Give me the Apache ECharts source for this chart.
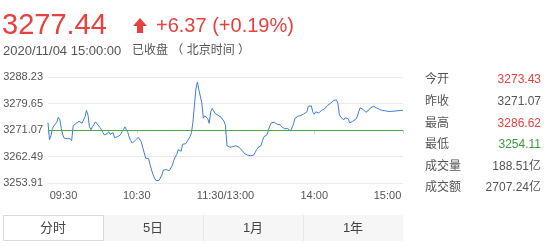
<!DOCTYPE html>
<html>
<head>
<meta charset="utf-8">
<script src="https://cdn.jsdelivr.net/npm/echarts@6/dist/echarts.min.js"></script>
<style>
html,body{margin:0;padding:0;background:#fff;}
#c{width:547px;height:246px;}
</style>
</head>
<body>
<div id="c"></div>
<script>
var prevClose = 3271.07;
var yTickLabels = ['3253.91', '3262.49', '3271.07', '3279.65', '3288.23'];
var xTickLabels = ['09:30', '10:30', '11:30/13:00', '14:00', '15:00'];
var prices = [
  3273.43, 3267.93, 3269.20, 3271.60, 3272.40, 3272.76, 3273.70, 3275.20, 3274.40, 3271.50,
  3269.50, 3268.40, 3268.90, 3268.25, 3267.90, 3268.25, 3267.60, 3272.40, 3272.90, 3273.24,
  3272.76, 3273.89, 3273.40, 3273.24, 3272.90, 3275.30, 3277.40, 3276.00, 3272.10, 3271.15,
  3272.10, 3272.76, 3273.70, 3273.56, 3272.60, 3271.95, 3271.30, 3270.34, 3269.50, 3268.90,
  3269.85, 3270.50, 3269.70, 3270.20, 3270.20, 3268.60, 3268.73, 3268.90, 3269.05, 3269.50,
  3270.50, 3271.15, 3272.10, 3271.15, 3270.20, 3268.60, 3267.60, 3266.80, 3267.30, 3267.76,
  3268.25, 3268.70, 3268.25, 3267.28, 3265.50, 3263.74, 3261.96, 3261.60, 3261.80, 3259.87,
  3258.10, 3256.65, 3255.52, 3254.71, 3254.11, 3254.71, 3255.20, 3256.50, 3258.10, 3257.60,
  3258.26, 3258.58, 3257.90, 3258.74, 3259.55, 3261.16, 3262.30, 3263.09, 3264.70, 3264.38,
  3264.20, 3266.47, 3266.15, 3266.60, 3267.28, 3267.76, 3268.90, 3270.20, 3273.70, 3279.20,
  3284.36, 3286.62, 3284.04, 3284.50, 3279.85, 3274.86, 3275.66, 3275.50, 3274.70, 3273.24,
  3276.95, 3278.08, 3277.27, 3276.47, 3276.14, 3275.82, 3275.82, 3275.18, 3274.70, 3273.90,
  3272.50, 3265.99, 3265.67, 3265.50, 3265.99, 3265.67, 3265.20, 3265.99, 3266.30, 3265.50,
  3265.00, 3264.54, 3263.90, 3263.41, 3263.09, 3262.93, 3262.45, 3262.77, 3263.41, 3262.93,
  3263.74, 3264.70, 3265.35, 3264.86, 3265.99, 3267.60, 3268.90, 3269.20, 3269.50, 3270.00,
  3272.40, 3273.40, 3273.70, 3273.56, 3273.40, 3272.90, 3273.07, 3272.76, 3272.10, 3271.80,
  3271.47, 3271.00, 3271.57, 3271.15, 3270.73, 3271.30, 3273.07, 3274.86, 3275.34, 3275.50,
  3275.66, 3275.82, 3276.14, 3276.30, 3276.14, 3276.95, 3278.72, 3279.10, 3278.90, 3276.95,
  3276.14, 3276.95, 3276.47, 3276.60, 3277.10, 3277.43, 3277.59, 3277.90, 3278.40, 3279.04,
  3279.50, 3279.69, 3280.33, 3280.66, 3281.30, 3280.82, 3279.69, 3275.98, 3275.18, 3274.86,
  3274.37, 3275.02, 3275.50, 3274.70, 3273.40, 3273.56, 3273.90, 3274.05, 3274.53, 3275.34,
  3276.95, 3278.24, 3278.08, 3277.76, 3277.27, 3276.79, 3276.47, 3277.59, 3278.24, 3278.56,
  3278.72, 3278.56, 3278.24, 3277.90, 3277.76, 3277.59, 3277.43, 3277.43, 3277.27, 3277.18,
  3277.10, 3276.95, 3277.10, 3277.27, 3277.18, 3277.43, 3277.27, 3277.18, 3277.43, 3277.43,
  3277.44
];
var headerPrice = '3277.44';
var headerChange = '+6.37 (+0.19%)';
var headerTime = '2020/11/04 15:00:00';
var headerStatus = '已收盘 （ 北京时间 ）';
var statLabels = ['今开', '昨收', '最高', '最低', '成交量', '成交额'];
var statValues = ['3273.43', '3271.07', '3286.62', '3254.11', '188.51亿', '2707.24亿'];
var statKinds = ['up', 'flat', 'up', 'down', 'flat', 'flat'];
var tabLabels = ['分时', '5日', '1月', '1年'];

// minute categories (09:30-11:30, 13:01-15:00)
var categories = [];
(function () {
  function pad(n) { return (n < 10 ? '0' : '') + n; }
  for (var m = 9 * 60 + 30; m <= 11 * 60 + 30; m++) categories.push(pad(Math.floor(m / 60)) + ':' + pad(m % 60));
  for (var m2 = 13 * 60 + 1; m2 <= 15 * 60; m2++) categories.push(pad(Math.floor(m2 / 60)) + ':' + pad(m2 % 60));
})();

var RED = '#e8413f', GREEN = '#3d9a3d', GRAY = '#555', BLUE = '#3d7edb';
var FONT = '"Liberation Sans", "Noto Sans CJK SC", sans-serif';
var yStep = 8.58;
var offsets = prices.map(function (p) { return +(p - prevClose).toFixed(2); });

var graphics = [];
graphics.push({ type: 'text', x: 2, y: 26, style: { text: headerPrice, fill: RED, font: '29px ' + FONT, verticalAlign: 'middle' } });
graphics.push({ type: 'polygon', shape: { points: [[140, 18], [133, 26], [137, 26], [137, 33], [143, 33], [143, 26], [147, 26]] }, style: { fill: RED } });
graphics.push({ type: 'text', x: 156, y: 26, style: { text: headerChange, fill: RED, font: '20px ' + FONT, verticalAlign: 'middle' } });
graphics.push({ type: 'text', x: 3, y: 51, style: { text: headerTime, fill: GRAY, font: '13px ' + FONT, verticalAlign: 'middle' } });
graphics.push({ type: 'text', x: 132, y: 51, style: { text: headerStatus, fill: GRAY, font: '12px ' + FONT, verticalAlign: 'middle' } });
statLabels.forEach(function (lab, k) {
  var yy = 80 + 21.6 * k;
  graphics.push({ type: 'text', x: 425, y: yy, style: { text: lab, fill: GRAY, font: '12px ' + FONT, verticalAlign: 'middle' } });
  var col = statKinds[k] === 'up' ? RED : (statKinds[k] === 'down' ? GREEN : GRAY);
  graphics.push({ type: 'text', x: 541, y: yy, style: { text: statValues[k], fill: col, font: '12px ' + FONT, align: 'right', verticalAlign: 'middle' } });
});
// tabs
graphics.push({ type: 'rect', shape: { x: 103, y: 215, width: 300, height: 26 }, style: { fill: '#f6f6f6' } });
graphics.push({ type: 'line', shape: { x1: 203.5, y1: 215, x2: 203.5, y2: 241 }, style: { stroke: '#e6e6e6', lineWidth: 1 } });
graphics.push({ type: 'line', shape: { x1: 303.5, y1: 215, x2: 303.5, y2: 241 }, style: { stroke: '#e6e6e6', lineWidth: 1 } });
graphics.push({ type: 'rect', shape: { x: 3.5, y: 215.5, width: 100, height: 25 }, style: { fill: '#fff', stroke: '#d9d9d9', lineWidth: 1 } });
tabLabels.forEach(function (t, k) {
  graphics.push({ type: 'text', x: 53 + 100 * k, y: 228, style: { text: t, fill: '#444', font: '13px ' + FONT, align: 'center', verticalAlign: 'middle' } });
});

var chart = echarts.init(document.getElementById('c'), null, { renderer: 'canvas' });
chart.setOption({
  animation: false,
  textStyle: { fontFamily: FONT },
  grid: { left: 48, right: 144, top: 77, bottom: 63, containLabel: false },
  xAxis: {
    type: 'category',
    data: categories,
    boundaryGap: false,
    axisLine: { show: true, lineStyle: { color: '#e0e0e0' } },
    axisTick: { show: true, interval: function (i) { return i % 60 === 0; }, length: 4, lineStyle: { color: '#d8d8d8' } },
    splitLine: { show: false },
    axisLabel: {
      interval: function (i) { return i % 60 === 0; },
      margin: 7,
      color: '#555',
      fontSize: 11,
      formatter: function (v, idx) {
        var k = Math.round(idx / 60);
        var s = xTickLabels[k];
        if (k === 0) return '{l|' + s + '}';
        if (k === xTickLabels.length - 1) return '{r|' + s + '}';
        return s;
      },
      rich: {
        l: { padding: [0, 0, 0, 31], fontSize: 11, color: '#555' },
        r: { padding: [0, 31, 0, 0], fontSize: 11, color: '#555' }
      }
    }
  },
  yAxis: {
    type: 'value',
    min: -2 * yStep,
    max: 2 * yStep,
    interval: yStep,
    axisLine: { show: false },
    axisTick: { show: false },
    splitLine: { show: true, lineStyle: { color: '#ebebeb' } },
    axisLabel: {
      margin: 5,
      color: '#555',
      fontSize: 11,
      formatter: function (v) {
        var k = Math.round(v / yStep) + 2;
        return yTickLabels[k] || '';
      }
    }
  },
  series: [{
    type: 'line',
    data: offsets,
    symbol: 'none',
    lineStyle: { color: BLUE, width: 1 },
    z: 3,
    markLine: {
      silent: true,
      symbol: ['none', 'none'],
      label: { show: false },
      lineStyle: { color: '#48a948', width: 1, type: 'solid' },
      data: [{ yAxis: 0 }]
    }
  }],
  graphic: graphics
});
</script>
</body>
</html>
